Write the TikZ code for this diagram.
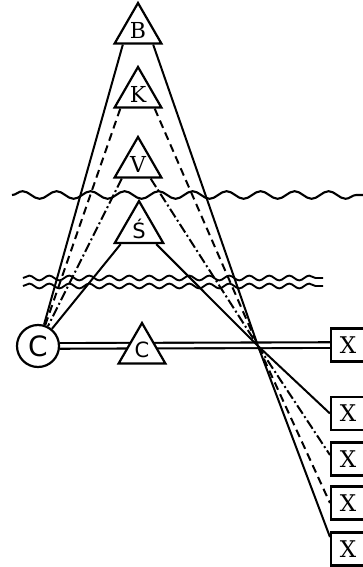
\documentclass[tikz,border=0pt]{standalone}
\usepackage{fontspec}
\setmainfont{DejaVu Serif}
\newfontfamily\sansf{DejaVu Sans}
\usetikzlibrary{shapes.geometric,decorations.pathmorphing,calc}
\pgfdeclarelayer{bg}
\pgfsetlayers{bg,main}
\begin{document}
\begin{tikzpicture}[x=1pt,y=-1pt,
  tri/.style={regular polygon, regular polygon sides=3, minimum size=54pt, inner sep=0pt, draw, line width=2.2pt, fill=white, font=\fontsize{22}{22}\selectfont},
  xbox/.style={draw, line width=2.1pt, fill=white, minimum width=34pt, minimum height=33pt, inner sep=0pt, font=\fontsize{23}{23}\selectfont},
  circ/.style={circle, draw, line width=2.2pt, fill=white, minimum size=42pt, inner sep=0pt, font=\sansf\fontsize{28}{28}\selectfont},
  conn/.style={line width=2pt},
  dashconn/.style={line width=2pt, dash pattern=on 8pt off 5pt},
  dotconn/.style={line width=2pt, dash pattern=on 10pt off 3pt on 2pt off 3pt},
  wave/.style={line width=2.1pt, decorate, decoration={snake, segment length=34pt, amplitude=3.8pt}},
  ripple/.style={line width=1.9pt, decorate, decoration={snake, segment length=20pt, amplitude=2.4pt}},
  dbl/.style={line width=2.1pt, double, double distance=3.5pt}
]
\useasboundingbox (0,0) rectangle (363,567);

% nodes
\node[tri] (B) at (138,30) {B};
\node[tri] (K) at (138,94) {K};
\node[tri] (V) at (138,164) {V};
\node[tri, font=\sansf\fontsize{21}{21}\selectfont] (S) at (139,229) {Ś};
\node[tri, font=\sansf\fontsize{21}{21}\selectfont] (Ct) at (142,350) {C};
\node[circ] (Cc) at (38,346) {C};
\node[xbox] (X0) at (348,345) {X};
\node[xbox] (X1) at (348,413.5) {X};
\node[xbox] (X2) at (348,459) {X};
\node[xbox] (X3) at (348,503) {X};
\node[xbox] (X4) at (348,549) {X};
\coordinate (P) at (258,346);

\begin{pgfonlayer}{bg}
% double line
\draw[dbl] (Cc) -- (X0);
% left connectors to C
\draw[conn] ($(B.corner 2)!0.2!(B.corner 3)$) -- (Cc);
\draw[dashconn] ($(K.corner 2)!0.15!(K.corner 3)$) -- (Cc);
\draw[dotconn] ($(V.corner 2)!0.18!(V.corner 3)$) -- (Cc);
\draw[conn] ($(S.corner 2)!0.15!(S.corner 3)$) -- (Cc);
% right connectors through P to boxes
\draw[conn] ($(B.corner 3)!0.2!(B.corner 2)$) -- (P) -- ($(X4.west)+(0,-12)$);
\draw[dashconn] ($(K.corner 3)!0.17!(K.corner 2)$) -- (P) -- (X3.west);
\draw[dotconn] ($(V.corner 3)!0.25!(V.corner 2)$) -- (P) -- ($(X2.west)+(0,-4)$);
\draw[conn] ($(S.corner 3)!0.17!(S.corner 2)$) -- (P) -- (X1.west);
\end{pgfonlayer}

% waves
\draw[wave] (12,195) -- (372,195);
\draw[ripple] (23,278) -- (323,278);
\draw[ripple] (23,286) -- (323,286);
\end{tikzpicture}
\end{document}
